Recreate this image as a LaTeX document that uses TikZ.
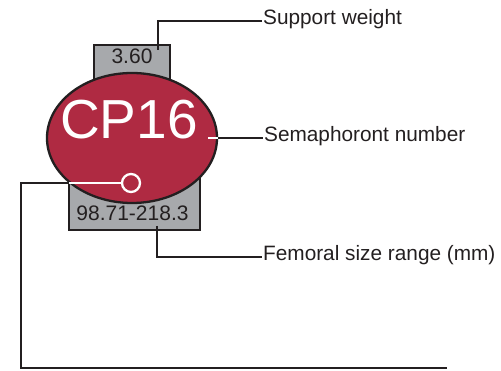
\documentclass[tikz,border=0pt]{standalone}
\usepackage{fontspec}
\setmainfont{Liberation Sans}
\usetikzlibrary{shapes.geometric}
\definecolor{cpred}{RGB}{175,42,66}
\definecolor{boxgrey}{RGB}{167,169,172}
\definecolor{ink}{RGB}{35,31,32}
\begin{document}
\begin{tikzpicture}[x=1pt,y=-1pt,line width=2.3pt,
  lbl/.style={font=\fontsize{20.8}{24}\selectfont,text=ink,inner sep=0pt,text height=0.72em,text depth=0pt},
  val/.style={lbl,font=\fontsize{21}{24}\selectfont}]
\useasboundingbox (0,0) rectangle (501,371);
%grey boxes
\draw[ink,fill=boxgrey] (94,95) -- (94,45) -- (170,45) -- (170,95);
\draw[ink,fill=boxgrey] (69,160) -- (69,230) -- (200,230) -- (200,160);
\node[val] (wt) at (132,60) {3.60};
\node[val] (rng) at (132.5,217) {98.71-218.3};
%main ellipse
\node[ellipse,draw=ink,fill=cpred,minimum width=170pt,minimum height=130pt,inner sep=0pt] (sem) at (132,138) {};
\node[font=\fontsize{55}{60}\selectfont,text=white,inner sep=0pt,text height=0.72em,text depth=0pt] (cp) at (129,135) {CP16};
\node[circle,draw=white,minimum size=18pt,inner sep=0pt] (dot) at (131,183) {};
%labels
\node[lbl,anchor=west] (swlbl) at (262,21) {Support weight};
\node[lbl,anchor=west] (snlbl) at (263,138) {Semaphoront number};
\node[lbl,anchor=west] (fslbl) at (262,257) {Femoral size range (mm)};
%leader lines
\coordinate (swpt) at (158,50);
\coordinate (snpt) at (208,138);
\coordinate (fspt) at (157,226);
\coordinate (edge) at (69,183);
\coordinate (tail) at (447,368);
\draw[ink] (swpt) |- (swlbl.west);
\draw[white] (snpt) -- (sem.east);
\draw[ink] (sem.east) -- (snlbl.west);
\draw[ink] (fspt) |- (fslbl.west);
\draw[white] (dot.west) -- (edge);
\draw[ink] (edge) -- (21,183) |- (tail);
\end{tikzpicture}
\end{document}
